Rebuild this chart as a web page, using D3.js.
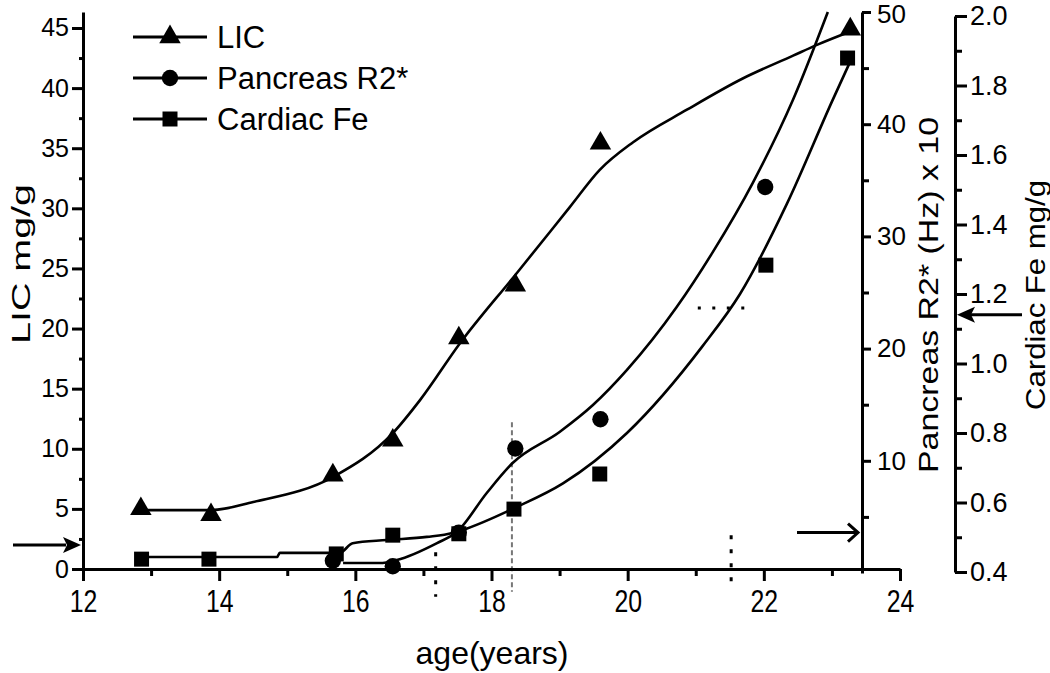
<!DOCTYPE html>
<html><head><meta charset="utf-8">
<script src="https://cdn.jsdelivr.net/npm/d3@7"></script>
<style>
body{margin:0;background:#fff}
svg{display:block}
text{font-family:"Liberation Sans",Arial,sans-serif;fill:#000}
</style>
</head><body>
<svg id="c" width="1050" height="673"></svg>
<script>
// ---------- data ----------
const licAge  = [12.85, 13.88, 15.67, 16.55, 17.52, 18.35, 19.6, 23.27];
const licVal  = [5.0, 4.5, 7.8, 10.7, 19.2, 23.6, 35.4, 44.9];
const pancAge = [15.67, 16.55, 17.52, 18.35, 19.6, 22.02];
const pancVal = [1.1, 0.6, 3.6, 11.1, 13.7, 34.4];
const cardAge = [12.86, 13.85, 15.72, 16.55, 17.52, 18.33, 19.59, 22.03, 23.23];
const cardVal = [0.437, 0.437, 0.452, 0.506, 0.51, 0.581, 0.682, 1.283, 1.879];

// fitted curves (knots)
const licFitAge  = [12.85, 13.89, 14.5, 15.67, 16.55, 16.95, 17.54, 18.37, 19.15, 19.59, 20.08, 20.87, 21.69, 22.43, 22.78, 23.31];
const licFitVal  = [4.9, 4.9, 5.57, 7.65, 11.3, 14.05, 18.8, 24.6, 30.1, 33.2, 35.5, 38.2, 40.8, 42.7, 43.6, 44.8];
const pancFitAge = [15.82, 16.36, 16.61, 17.2, 17.49, 17.93, 18.31, 19.0, 19.49, 19.99, 20.72, 21.25, 21.84, 22.43, 22.94];
const pancFitVal = [0.89, 0.89, 1.16, 2.67, 3.65, 7.13, 9.8, 12.57, 14.97, 18.1, 23.7, 28.6, 34.8, 42.2, 50];
const cardFitAge = [12.87, 14.85, 14.89, 15.77, 15.96, 16.46, 17.05, 17.43, 17.58, 18.37, 19.05, 19.99, 21.1, 21.65, 22.34, 23.01, 23.26];
const cardFitVal = [0.443, 0.443, 0.455, 0.455, 0.483, 0.492, 0.501, 0.512, 0.521, 0.587, 0.655, 0.8, 1.05, 1.2, 1.46, 1.758, 1.865];

// ticks
const xTicks     = [12, 14, 16, 18, 20, 22, 24];
const xMinor     = [13, 15, 17, 19, 21, 23];
const licTicks   = [0, 5, 10, 15, 20, 25, 30, 35, 40, 45];
const licMinor   = [2.5, 7.5, 12.5, 17.5, 22.5, 27.5, 32.5, 37.5, 42.5];
const pancTicks  = [10, 20, 30, 40, 50];
const pancMinor  = [5, 15, 25, 35, 45];
const cardTicks  = [0.4, 0.6, 0.8, 1.0, 1.2, 1.4, 1.6, 1.8, 2.0];
const cardMinor  = [0.5, 0.7, 0.9, 1.1, 1.3, 1.5, 1.7, 1.9];

const legendNames = ["LIC", "Pancreas R2*", "Cardiac Fe"];

// thresholds marked by arrows
const licThreshold  = 2.0;
const pancThreshold = 3.6;
const cardThreshold = 1.14;

// annotation lines (age, LIC-from, LIC-to)
const vDashGrey = [18.3, 12.2, -1.9];
const vDots = [[17.18, 1.4, -2.3], [21.52, 2.8, -1.8]];
const hDots = [21.03, 21.88, 21.7];

// ---------- scales ----------
const svg = d3.select("#c");
const x  = d3.scaleLinear().domain([12, 24]).range([83, 900]);
const yL = d3.scaleLinear().domain([0, 46.33]).range([569, 12]);
const yP = d3.scaleLinear().domain([0, 50]).range([573, 12]);
const yC = d3.scaleLinear().domain([0.4, 2.0]).range([572, 16]);
const pancAxisX = 862, cardAxisX = 955;
const FONT = '"Liberation Sans",Arial,sans-serif';

function styleAxis(g, fs){
  g.attr("font-size", fs).attr("font-family", FONT);
  g.select(".domain").attr("stroke", "#000").attr("stroke-width", 3);
  g.selectAll(".tick line").attr("stroke", "#000").attr("stroke-width", 3);
  g.selectAll(".tick text").attr("font-size", fs).style("font-size", fs + "px").attr("fill", "#000");
}

// annotation lines (behind)
svg.append("line")
  .attr("x1", x(vDashGrey[0])).attr("x2", x(vDashGrey[0]))
  .attr("y1", yL(vDashGrey[1])).attr("y2", yL(vDashGrey[2]))
  .attr("stroke", "#777").attr("stroke-width", 2).attr("stroke-dasharray", "5,3");
vDots.forEach(d => svg.append("line")
  .attr("x1", x(d[0])).attr("x2", x(d[0]))
  .attr("y1", yL(d[1])).attr("y2", yL(d[2]))
  .attr("stroke", "#000").attr("stroke-width", 3).attr("stroke-dasharray", "4,10"));
svg.append("line")
  .attr("x1", x(hDots[0])).attr("x2", x(hDots[1]))
  .attr("y1", yL(hDots[2])).attr("y2", yL(hDots[2]))
  .attr("stroke", "#000").attr("stroke-width", 3).attr("stroke-dasharray", "3,11.5");

// ---------- axes ----------
const gx = svg.append("g").attr("transform", `translate(0,${yL(0)})`)
  .call(d3.axisBottom(x).tickValues(xTicks).tickSize(12).tickSizeOuter(0).tickPadding(9).tickFormat(d3.format("d")));
styleAxis(gx, 31);
gx.selectAll(".tick text").attr("transform", "scale(0.8,1)");
const gxm = svg.append("g").attr("transform", `translate(0,${yL(0)})`)
  .call(d3.axisBottom(x).tickValues(xMinor).tickSize(7).tickSizeOuter(0).tickFormat(""));
styleAxis(gxm, 24); gxm.select(".domain").remove();

const gl = svg.append("g").attr("transform", `translate(${x(12)},0)`)
  .call(d3.axisLeft(yL).tickValues(licTicks).tickSize(11).tickSizeOuter(0).tickPadding(3));
styleAxis(gl, 25);
const glm = svg.append("g").attr("transform", `translate(${x(12)},0)`)
  .call(d3.axisLeft(yL).tickValues(licMinor).tickSize(4).tickSizeOuter(0).tickFormat(""));
styleAxis(glm, 24); glm.select(".domain").remove();

const gp = svg.append("g").attr("transform", `translate(${pancAxisX},0)`)
  .call(d3.axisRight(yP).tickValues(pancTicks).tickSize(9).tickSizeOuter(0).tickPadding(6));
styleAxis(gp, 26);
gp.selectAll(".tick text").filter(d => d === 50).attr("dy", "0.42em");
const gpm = svg.append("g").attr("transform", `translate(${pancAxisX},0)`)
  .call(d3.axisRight(yP).tickValues(pancMinor).tickSize(7).tickSizeOuter(0).tickFormat(""));
styleAxis(gpm, 24); gpm.select(".domain").remove();

const gc = svg.append("g").attr("transform", `translate(${cardAxisX},0)`)
  .call(d3.axisRight(yC).tickValues(cardTicks).tickSize(12).tickSizeOuter(0).tickPadding(3).tickFormat(d3.format(".1f")));
styleAxis(gc, 27);
const gcm = svg.append("g").attr("transform", `translate(${cardAxisX},0)`)
  .call(d3.axisRight(yC).tickValues(cardMinor).tickSize(7).tickSizeOuter(0).tickFormat(""));
styleAxis(gcm, 24); gcm.select(".domain").remove();

// axis titles
svg.append("text").attr("transform", `translate(30,264) rotate(-90)`)
  .attr("text-anchor", "middle").attr("font-size", 25)
  .attr("textLength", 160).attr("lengthAdjust", "spacingAndGlyphs").text("LIC mg/g");
svg.append("text").attr("transform", `translate(492,664)`)
  .attr("text-anchor", "middle").attr("font-size", 32).text("age(years)");
svg.append("text").attr("transform", `translate(938,295) rotate(-90)`)
  .attr("text-anchor", "middle").attr("font-size", 28)
  .attr("textLength", 356).attr("lengthAdjust", "spacingAndGlyphs").text("Pancreas R2* (Hz) x 10");
svg.append("text").attr("transform", `translate(1045,295) rotate(-90)`)
  .attr("text-anchor", "middle").attr("font-size", 28)
  .attr("textLength", 230).attr("lengthAdjust", "spacingAndGlyphs").text("Cardiac Fe mg/g");

// ---------- fitted curves ----------
const mk = ys => d3.line().x(d => x(d[0])).y(d => ys(d[1])).curve(d3.curveMonotoneX);
const curves = [
  [d3.zip(licFitAge, licFitVal), yL],
  [d3.zip(pancFitAge, pancFitVal), yP],
  [d3.zip(cardFitAge, cardFitVal), yC]
];
curves.forEach(([pts, ys]) => svg.append("path").attr("d", mk(ys)(pts))
  .attr("fill", "none").attr("stroke", "#000").attr("stroke-width", 2.6));

// ---------- markers ----------
const symTri = d3.symbol().type(d3.symbolTriangle).size(200);
const symCir = d3.symbol().type(d3.symbolCircle).size(210);
const symSq  = d3.symbol().type(d3.symbolSquare).size(225);
svg.append("g").selectAll("path").data(d3.zip(licAge, licVal)).join("path")
  .attr("d", symTri).attr("transform", d => `translate(${x(d[0])},${yL(d[1])})`);
svg.append("g").selectAll("path").data(d3.zip(pancAge, pancVal)).join("path")
  .attr("d", symCir).attr("transform", d => `translate(${x(d[0])},${yP(d[1])})`);
svg.append("g").selectAll("path").data(d3.zip(cardAge, cardVal)).join("path")
  .attr("d", symSq).attr("transform", d => `translate(${x(d[0])},${yC(d[1])})`);

// ---------- arrows ----------
const aL = yL(licThreshold);
svg.append("line").attr("x1", 13).attr("x2", 66).attr("y1", aL).attr("y2", aL).attr("stroke", "#000").attr("stroke-width", 3);
svg.append("path").attr("d", `M${x(12)-2},${aL} L${x(12)-20},${aL-8} L${x(12)-16},${aL} L${x(12)-20},${aL+8} Z`).attr("fill", "#000");
const aP = yP(pancThreshold);
svg.append("line").attr("x1", 797).attr("x2", pancAxisX - 4).attr("y1", aP).attr("y2", aP).attr("stroke", "#000").attr("stroke-width", 3);
svg.append("path").attr("d", `M${pancAxisX-14},${aP-9} L${pancAxisX-4},${aP} L${pancAxisX-14},${aP+9}`)
  .attr("fill", "none").attr("stroke", "#000").attr("stroke-width", 3);
const aC = yC(cardThreshold);
svg.append("line").attr("x1", 1022).attr("x2", cardAxisX + 14).attr("y1", aC).attr("y2", aC).attr("stroke", "#000").attr("stroke-width", 3);
svg.append("path").attr("d", `M${cardAxisX+2},${aC} L${cardAxisX+20},${aC-8} L${cardAxisX+16},${aC} L${cardAxisX+20},${aC+8} Z`).attr("fill", "#000");

// ---------- legend ----------
const legY = [37, 78, 119];
const legSyms = [symTri, symCir, symSq];
legendNames.forEach((n, i) => {
  svg.append("line").attr("x1", 133).attr("x2", 207).attr("y1", legY[i]).attr("y2", legY[i])
    .attr("stroke", "#000").attr("stroke-width", 3);
  svg.append("path").attr("d", legSyms[i]).attr("transform", `translate(170,${legY[i]})`);
  svg.append("text").attr("x", 217).attr("y", legY[i] + 11).attr("font-size", 31).text(n);
});
</script>
</body></html>
